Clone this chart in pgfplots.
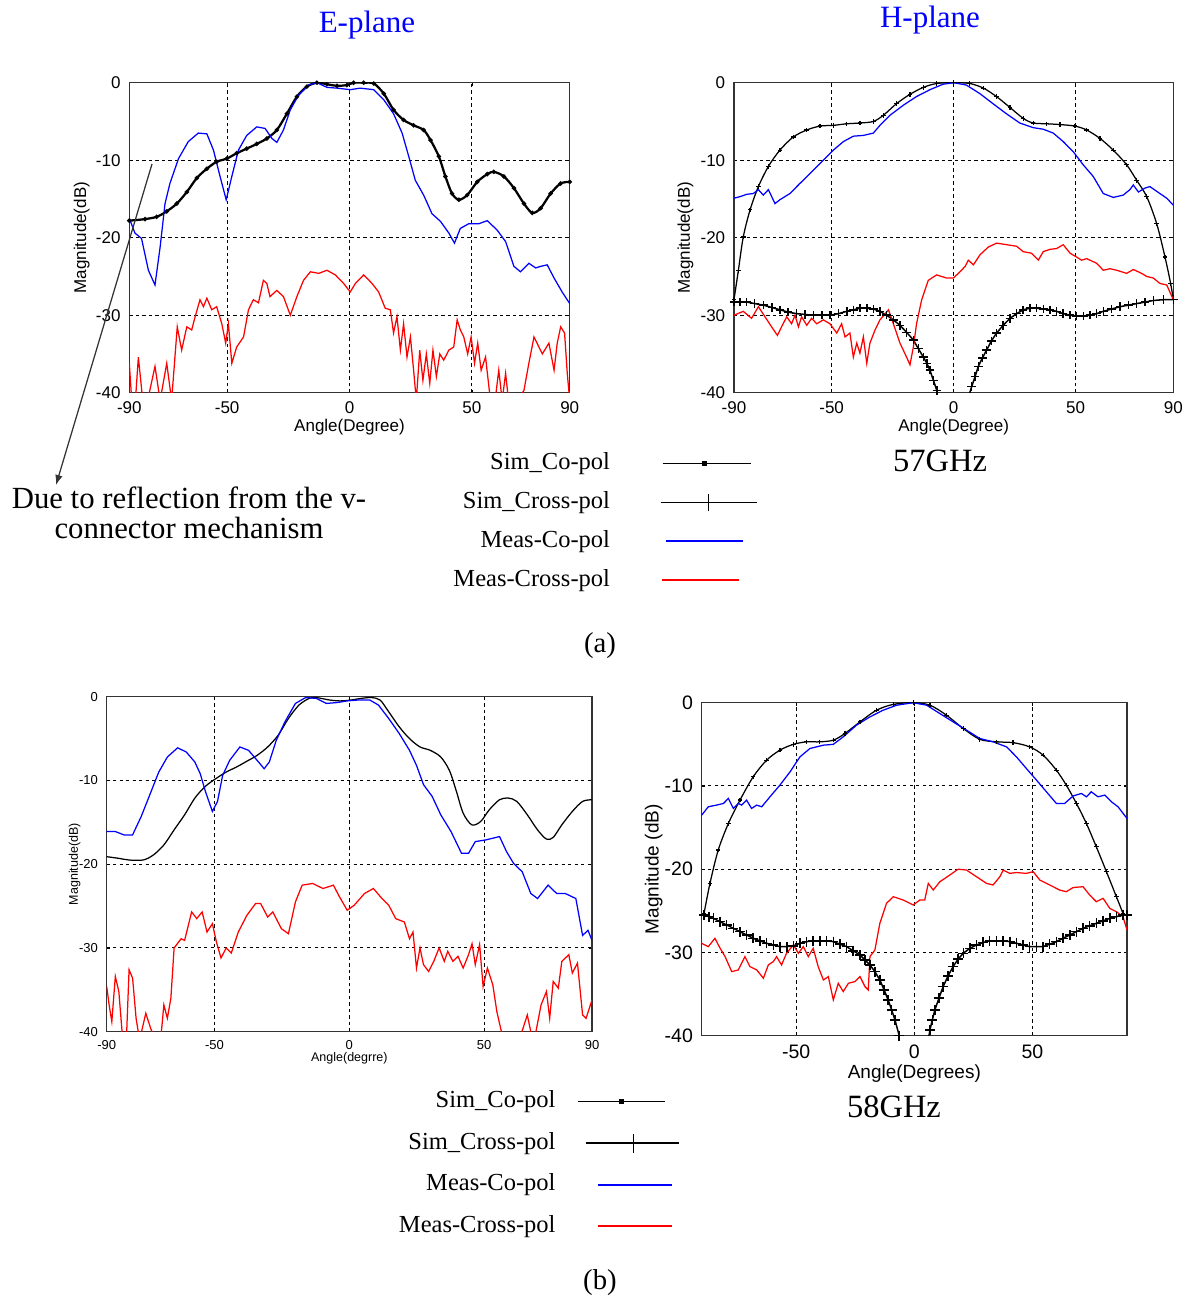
\documentclass[border=0pt]{standalone}
\usepackage{pgfplots}
\pgfplotsset{compat=1.18}
\usepackage{fontspec}
\setmainfont{Liberation Serif}
\setsansfont{Liberation Sans}
\usetikzlibrary{arrows.meta}

\pgfplotsset{
  matlab/.style={
    scale only axis, anchor=north west,
    xmin=-90, xmax=90, ymin=-40, ymax=0,
    ytick={-40,-30,-20,-10,0},
    grid=major,
    major grid style={black, line width=0.4pt, dash pattern=on 1.3pt off 1.3pt},
    axis line style={black!80, line width=0.5pt},
    tick align=inside, major tick length=1.2pt,
    tick style={black},
    /pgf/number format/assume math mode=true,
    clip=true,
    legend plot pos=right,
  },
  fA/.style={ticklabel style={font=\sffamily\fontsize{6.8}{7}\selectfont},
             label style={font=\sffamily\fontsize{6.8}{7}\selectfont}},
  fC/.style={ticklabel style={font=\sffamily\fontsize{5.2}{6}\selectfont},
             label style={font=\sffamily\fontsize{5}{6}\selectfont}},
  fD/.style={ticklabel style={font=\sffamily\fontsize{7.8}{8}\selectfont},
             label style={font=\sffamily\fontsize{7.6}{8}\selectfont}},
  meas/.style={line width=0.5pt},
  leg/.style={legend style={draw=none, fill=none, inner sep=0pt,
      font=\fontsize{9.8}{11}\selectfont, legend cell align=right,
      nodes={inner sep=0pt, text height=7pt, text depth=2pt}}},
}

\begin{document}
\begin{tikzpicture}
\path[use as bounding box] (0pt,0pt) rectangle (474.4pt,-520.4pt);

% ---------------- Panel A: E-plane 57 GHz ----------------
\begin{axis}[matlab, fA, at={(51.72pt,-33.08pt)}, width=176.16pt, height=124pt,
  xtick={-90,-50,0,50,90},
  xlabel={Angle(Degree)}, ylabel={Magnitude(dB)},
  xlabel style={yshift=4.8pt}, ylabel style={yshift=-4.4pt}]
\addplot[black, line width=0.9pt, mark=*, mark size=0.35pt, smooth] coordinates {
(-90,-17.8)(-83.6,-17.6)(-78.8,-17.3)(-74.7,-16.6)(-70.6,-15.6)(-66.5,-14.1)(-62.4,-12.3)(-58.3,-11.1)(-54.3,-10.2)(-50.2,-9.8)(-46.1,-9.1)(-42,-8.5)(-37.9,-7.9)(-33.8,-7.2)(-29.7,-6.1)(-25.6,-4.0)(-21.5,-1.8)(-17.4,-0.5)(-13.3,0)(-9.2,-0.2)(-5.1,-0.4)(-1.05,-0.3)(1.7,0)(5.8,0)(9.9,-0.1)(14,-1.4)(18,-3.5)(22.1,-4.8)(26.2,-5.5)(30.3,-6.1)(33.1,-7.4)(36.5,-9.5)(39.2,-12.1)(41.9,-14.3)(44.7,-15.1)(48.1,-14.5)(52.2,-12.8)(56.3,-11.8)(59,-11.5)(63.1,-12.1)(67.2,-13.6)(71.3,-15.6)(74.7,-16.8)(78.1,-16.2)(82.2,-14.3)(86.3,-13.0)(90,-12.8)};
\addplot[blue, meas] coordinates {
(-90,-17.5)(-87.7,-19.4)(-85,-20.1)(-82.2,-24.2)(-79.5,-26.1)(-77.4,-21.2)(-75.4,-15.6)(-73.4,-13.0)(-69.9,-9.8)(-65.9,-7.6)(-61.8,-6.5)(-58.3,-6.6)(-55.6,-8.7)(-52.9,-12.1)(-50.4,-15.1)(-48.1,-12.1)(-45.4,-8.7)(-42,-6.8)(-37.9,-5.7)(-34.5,-5.9)(-31.7,-7.2)(-29.7,-7.7)(-27,-6.1)(-24.2,-3.5)(-20.8,-1.6)(-16.7,-0.3)(-13.3,0)(-9.2,-0.6)(-5.1,-0.7)(0.3,-0.9)(4.4,-0.7)(9.9,-0.9)(14,-2.2)(18,-4.0)(21.5,-6.5)(24.2,-9.5)(26.9,-12.6)(30.3,-14.5)(33.7,-16.9)(37.2,-17.9)(40.6,-19.4)(42.9,-20.7)(45.3,-18.8)(48.7,-18.2)(52.8,-18.2)(56.3,-17.8)(60.3,-19)(63.8,-20.5)(67.2,-23.7)(69.9,-24.4)(73.3,-23.3)(76.1,-23.9)(78.1,-23.7)(80.8,-23.5)(83.6,-25.2)(86.9,-27)(90,-28.5)};
\addplot[red, meas] coordinates {
(-90,-36.2)(-89,-41)(-87.5,-41)(-86.3,-35.4)(-84.5,-41)(-82.5,-41)(-79.5,-36.6)(-77.4,-41)(-74.7,-36.2)(-72.7,-41)(-70.4,-31.5)(-68.6,-34.5)(-66.5,-31.5)(-64.5,-31.9)(-63.1,-30.2)(-61.1,-28)(-59.7,-28.9)(-58.3,-27.8)(-56.3,-29.3)(-54.3,-28.9)(-52.2,-31.1)(-50.6,-33.6)(-49.5,-31.1)(-48.1,-36.2)(-46.1,-34.1)(-43.3,-32.8)(-41.3,-29.3)(-39.3,-28)(-37.2,-28.4)(-35.2,-25.5)(-33.8,-25.9)(-32.5,-27.6)(-29.7,-26.8)(-27,-27.6)(-24.2,-30)(-21.5,-27.6)(-18.8,-25.5)(-16,-24.4)(-12.6,-24.6)(-9.2,-24.2)(-5.8,-24.8)(-2.4,-25.9)(0.3,-27)(2.4,-25.9)(5.8,-24.8)(9.2,-25.9)(11.9,-27)(14.6,-29.1)(16.7,-29.3)(18,-32.3)(19.4,-30.2)(20.8,-34.5)(22.1,-31.1)(23.5,-35.4)(24.9,-32.8)(26.2,-37.1)(27.3,-41)(28.7,-34.5)(30,-38.4)(31.4,-35)(32.8,-38.8)(34.1,-34.5)(35.5,-37.9)(36.9,-35)(38.5,-35.8)(40.6,-34.5)(42.6,-34.1)(44,-30.6)(45.3,-31.9)(46.7,-32.8)(48.3,-35)(49.7,-32.8)(51.1,-36.2)(52.4,-33.6)(53.8,-37.1)(55.6,-35.4)(57.6,-41)(59.5,-41)(61,-37.1)(62.4,-41)(63.8,-37.5)(65,-41)(68.5,-41)(71.3,-39.7)(73.3,-36.2)(75.4,-32.8)(78.8,-35)(81.5,-33.6)(83.6,-37.1)(84.9,-33.6)(86.3,-31.5)(87.9,-32.3)(89,-37.5)(90,-41)};
\end{axis}

% ---------------- Panel B: H-plane 57 GHz ----------------
\begin{axis}[matlab, fA, leg, at={(293.6pt,-33.08pt)}, width=175.72pt, height=124pt,
  xtick={-90,-50,0,50,90},
  xlabel={Angle(Degree)}, ylabel={Magnitude(dB)},
  xlabel style={yshift=4.8pt}, ylabel style={yshift=-4pt},
  legend style={at={(0.0546,-0.19)}, anchor=north east, /tikz/column sep=20pt, row sep=6.6pt}]
\addplot[black, line width=0.5pt, mark=+, mark size=0.9pt, smooth, forget plot] coordinates {
(-90,-28)(-88.2,-24.2)(-86.2,-19.9)(-83.4,-16.4)(-80,-13.4)(-75.9,-10.8)(-71.2,-8.7)(-65.7,-7)(-60.2,-6.1)(-54.8,-5.6)(-49.3,-5.5)(-43.8,-5.3)(-38.4,-5.2)(-32.9,-5.0)(-28.8,-4.2)(-23.4,-2.7)(-17.9,-1.5)(-12.4,-0.6)(-6.9,-0.1)(0,0)(6.6,-0.1)(12.2,-0.7)(17.6,-1.8)(23.1,-3.2)(28.5,-4.6)(32.6,-5.2)(38.1,-5.3)(43.6,-5.4)(49.7,-5.6)(54.5,-6.1)(60,-7.2)(65.4,-8.7)(70.9,-10.6)(75,-12.6)(79.1,-14.7)(83.2,-18.2)(86.6,-22.5)(88.9,-25.9)(90,-28)};
\addplot[black, line width=0.6pt, mark=+, mark size=1.7pt, forget plot] coordinates {
(-90,-28.3)(-87.5,-28.3)(-84.8,-28.3)(-81.5,-28.5)(-78,-28.7)(-74.5,-29)(-71.2,-29.3)(-67.8,-29.6)(-64.3,-29.8)(-61,-29.9)(-57.5,-30)(-54,-30)(-50.7,-30)(-47.2,-29.8)(-43.8,-29.5)(-41,-29.3)(-38.4,-29.1)(-35.6,-29.1)(-32.9,-29.2)(-30.2,-29.5)(-27.5,-30)(-24.7,-30.6)(-22,-31.3)(-19.3,-32.2)(-16.5,-33.2)(-14.5,-34.3)(-12.4,-35.4)(-11,-36.2)(-9.7,-37.1)(-8.3,-38.4)(-6.9,-39.7)(-5.6,-41)};
\addplot[black, line width=0.6pt, mark=+, mark size=1.7pt, forget plot] coordinates {
(5.6,-41)(7.4,-39.2)(8.8,-37.9)(10.1,-36.6)(11.8,-35.5)(13.5,-34.5)(15.5,-33.3)(17.6,-32.3)(20.3,-31.3)(23.1,-30.4)(25.8,-29.8)(28.5,-29.3)(31.2,-29.1)(34,-29.1)(36.8,-29.2)(39.5,-29.3)(42.2,-29.5)(44.9,-29.8)(47.6,-30)(50.4,-30.1)(53.1,-30.1)(55.9,-30)(58.6,-29.8)(61.3,-29.5)(64.7,-29.2)(68.2,-28.9)(71.6,-28.7)(75,-28.5)(78.4,-28.3)(81.8,-28.1)(85.9,-28)(90,-28)};
\addplot[blue, meas, forget plot] coordinates {
(-90,-14.9)(-87.5,-14.7)(-84.8,-14.4)(-82.1,-14.3)(-80,-13.8)(-78,-14.5)(-75.9,-13.8)(-73.2,-15.6)(-71.2,-15.1)(-67.1,-14.3)(-63,-13)(-57.5,-11.3)(-53.4,-10)(-49.3,-8.7)(-45.2,-7.6)(-41.1,-6.9)(-37,-6.8)(-32.9,-6.5)(-30.2,-5.5)(-26.1,-4.2)(-20.6,-2.9)(-15.3,-1.8)(-9.7,-0.9)(-4.4,-0.2)(0,0)(5.2,-0.3)(10.7,-1.4)(16.1,-2.7)(21.6,-4)(27.1,-5.2)(32.6,-5.8)(36.7,-6)(40.8,-6.5)(44.9,-7.6)(49,-8.9)(53.1,-10.6)(57.2,-12.1)(61.3,-14.3)(65.4,-14.8)(69.5,-14.5)(72.2,-13.8)(73.6,-13.2)(75.7,-14.1)(78.4,-13.6)(80.4,-13.4)(84.5,-14.3)(87.3,-14.9)(90,-15.8)};
\addplot[red, meas, forget plot] coordinates {
(-90,-30)(-86.2,-29.5)(-82.8,-30.4)(-80,-28.9)(-77.3,-30.2)(-74.6,-31.5)(-72.2,-32.6)(-70.5,-31.5)(-68.4,-30.2)(-66.4,-31.1)(-65,-30)(-63.6,-31.5)(-62.3,-30.2)(-60.2,-31.3)(-58.2,-30.4)(-56.1,-31.1)(-53.4,-30.6)(-50.7,-31.1)(-47.9,-32.3)(-45.9,-31.1)(-44.5,-32.8)(-42.5,-32.3)(-41.1,-35.4)(-39.7,-33.6)(-38.4,-34.9)(-37,-32.8)(-35.6,-36.2)(-34.3,-33.6)(-32.2,-31.9)(-30.2,-30.6)(-26.7,-29.3)(-24.7,-31.1)(-22,-33.6)(-19.3,-35.4)(-17.9,-36.4)(-16.5,-34.1)(-15.2,-31.1)(-13.1,-28)(-10.4,-25.5)(-7,-24.8)(-2.9,-25.2)(-0.1,-25.2)(2.6,-24.4)(4.7,-23.7)(6,-22.9)(8.1,-23.5)(10.8,-22.2)(14.2,-21.2)(17.6,-20.7)(21.7,-20.9)(25.8,-21.1)(28.5,-21.8)(31.9,-22.0)(34.7,-22.9)(36.7,-21.8)(39.5,-21.5)(42.2,-21.4)(44.9,-20.9)(47.7,-22)(50.4,-22.5)(52.4,-22.9)(54.5,-22.7)(58.6,-23.3)(61.3,-24.2)(64.1,-24)(66.8,-24.2)(70.9,-24.6)(73.6,-24.1)(77,-24.6)(79.1,-25)(81.8,-25.2)(84.5,-25.9)(87.3,-26.1)(90,-28)};
\addlegendimage{legend image code/.code={\draw[black,line width=0.6pt] (0.8pt,0pt) -- (36pt,0pt); \fill[black] (16.7pt,-0.9pt) rectangle (18.5pt,0.9pt);}}
\addlegendentry{Sim\_Co-pol}
\addlegendimage{legend image code/.code={\draw[black,line width=0.6pt] (0pt,0pt) -- (38.4pt,0pt); \draw[black,line width=0.5pt] (19.2pt,-3.5pt) -- (19.2pt,3.5pt);}}
\addlegendentry{Sim\_Cross-pol}
\addlegendimage{legend image code/.code={\draw[blue,line width=0.7pt] (2pt,0pt) -- (32.8pt,0pt);}}
\addlegendentry{Meas-Co-pol}
\addlegendimage{legend image code/.code={\draw[draw=red,line width=0.8pt] (0.4pt,0pt) -- (31.2pt,0pt);}}
\addlegendentry{Meas-Cross-pol}
\end{axis}

% ---------------- Panel C: E-plane 58 GHz ----------------
\begin{axis}[matlab, fC, at={(42.68pt,-278.68pt)}, width=194.12pt, height=134pt,
  xtick={-90,-50,0,50,90},
  xlabel={Angle(degrre)}, ylabel={Magnitude(dB)},
  xlabel style={yshift=5.6pt}, ylabel style={yshift=-7.4pt}]
\addplot[black, line width=0.5pt, smooth] coordinates {
(-90,-19.1)(-85.5,-19.3)(-81.7,-19.5)(-76.5,-19.5)(-72.7,-18.9)(-68.8,-17.7)(-65,-15.9)(-61.1,-14.1)(-57.3,-12.1)(-53.4,-10.7)(-49.6,-9.8)(-45.7,-9.0)(-41.9,-8.4)(-38,-7.7)(-34.2,-7.0)(-30.3,-6.0)(-26.4,-4.6)(-22.6,-2.6)(-18.7,-1.0)(-14.9,-0.2)(-12.3,-0.1)(-7.2,-0.4)(-3.3,-0.5)(0.5,-0.4)(4.4,-0.2)(8.2,-0.1)(11.4,-0.4)(14.6,-1.8)(18.5,-3.6)(22.3,-5.0)(26.2,-6.0)(30,-6.4)(33.9,-7.2)(37.1,-8.8)(39.7,-11.3)(42.2,-13.9)(45.4,-15.3)(48.7,-14.9)(51.9,-13.5)(55.7,-12.3)(58.9,-12.1)(62.1,-12.5)(66,-14.1)(69.8,-15.9)(73.1,-17)(75.6,-16.8)(78.8,-15.3)(82.7,-13.7)(86.5,-12.5)(90,-12.3)};
\addplot[blue, meas] coordinates {
(-90,-16.1)(-86.8,-16.1)(-83.6,-16.5)(-80.4,-16.5)(-77.2,-14.3)(-74,-11.7)(-70.7,-9)(-67.5,-7.2)(-63.7,-6.1)(-60.5,-6.6)(-57.3,-7.8)(-55.3,-9.2)(-53.4,-11.3)(-50.8,-13.7)(-48.9,-12.5)(-47,-9.4)(-44.4,-7.6)(-40.6,-6)(-37.4,-6.4)(-34.2,-7.6)(-31.6,-8.6)(-29.7,-7.8)(-27.1,-5.2)(-23.9,-3.0)(-20,-0.8)(-16.2,-0.1)(-12.3,-0.2)(-8.5,-0.8)(-4.6,-0.7)(-0.8,-0.5)(3.1,-0.4)(7.6,-0.4)(10.8,-1)(14.6,-2.6)(18.5,-4.4)(22.3,-6.4)(24.9,-8.2)(27.5,-10.5)(30.7,-11.9)(33.9,-14.1)(37.7,-16.1)(41.6,-18.7)(44.2,-18.7)(46.7,-17.3)(50.6,-17.1)(55.7,-16.7)(58.3,-18.5)(60.9,-19.9)(64.1,-20.9)(67.3,-23.5)(69.8,-24.1)(73.7,-22.5)(76.9,-23.5)(80.1,-23.5)(84,-24.1)(86.5,-28.5)(88.5,-27.9)(90,-29.1)};
\addplot[red, meas] coordinates {
(-90,-34.6)(-89.1,-36.8)(-88.1,-38.8)(-86.8,-33.4)(-85.5,-35.2)(-84.2,-40.4)(-82.7,-41)(-81.7,-32.6)(-80.4,-33.6)(-79.1,-38.4)(-77.8,-41)(-75.5,-37.8)(-73.7,-39.6)(-72,-41)(-70,-41)(-68.8,-36.8)(-67.5,-38.4)(-66.2,-36)(-65,-30)(-62.4,-28.9)(-61.1,-29.1)(-58.5,-25.7)(-56.6,-26.5)(-54.6,-25.7)(-52.8,-28.1)(-50.8,-27.1)(-49.3,-29.3)(-47.6,-31.2)(-45.7,-30)(-43.8,-30.6)(-41.2,-28.1)(-38,-26.1)(-34.8,-24.7)(-32.9,-24.7)(-30.3,-26.3)(-28.4,-25.7)(-25.2,-27.7)(-22.6,-28.3)(-20,-24.5)(-17.5,-22.5)(-13.6,-22.3)(-9.8,-22.9)(-5.9,-22.5)(-4,-23.7)(-0.8,-25.5)(1.8,-24.9)(5.6,-23.5)(8.9,-22.9)(12.1,-24.1)(14.6,-24.9)(17.2,-26.5)(20.4,-26.9)(22.3,-28.9)(23.6,-28.1)(24.9,-32.4)(26.2,-30)(27.5,-32)(29.4,-32.8)(31.3,-31.6)(33.3,-30)(35.2,-31.6)(36.5,-30.4)(38.4,-31.6)(40.3,-31)(42.2,-32.4)(44.2,-30.8)(45.5,-29.5)(46.7,-32)(48.3,-29.6)(49.6,-34.6)(51.2,-32.4)(53.2,-34.4)(54.7,-37.6)(56.4,-40)(58.3,-41)(63,-41)(66,-38)(67.3,-40)(68.6,-41)(71.1,-36.8)(73.1,-35.2)(74.3,-38.4)(75.6,-34)(77.5,-34.8)(78.8,-31.6)(81.4,-30.8)(82.7,-33)(84.6,-31.8)(86.5,-38)(87.8,-38.4)(90,-36.2)};
\end{axis}

% ---------------- Panel D: H-plane 58 GHz ----------------
\begin{axis}[matlab, fD, leg, at={(280.68pt,-281.08pt)}, width=170.12pt, height=133.2pt,
  xtick={-50,0,50},
  xlabel={Angle(Degrees)}, ylabel={Magnitude (dB)},
  xlabel style={yshift=4.4pt}, ylabel style={yshift=-6pt},
  legend style={at={(-0.051,-0.163)}, anchor=north east, /tikz/column sep=8.8pt, row sep=7.6pt}]
\addplot[black, line width=0.5pt, mark=+, mark size=0.9pt, smooth, forget plot] coordinates {
(-89,-25.3)(-86.5,-21.7)(-83,-17.7)(-78.7,-14.5)(-73.8,-11.7)(-68.2,-8.9)(-62.5,-6.9)(-56.9,-5.7)(-51.2,-5.0)(-45.6,-4.7)(-40,-4.7)(-34.3,-4.5)(-29.4,-3.7)(-23,-2.3)(-16,-0.9)(-8.9,-0.2)(-0.5,0)(6.6,-0.3)(13.6,-1.5)(20.7,-3.1)(27.7,-4.4)(34.8,-4.7)(41.8,-4.8)(48.8,-5.3)(54.5,-6.3)(60.1,-8.1)(64.3,-9.9)(68.6,-12.1)(72.8,-14.5)(77,-17.3)(81.3,-20.3)(85.5,-23.3)(88.3,-25.3)};
\addplot[black, line width=0.6pt, mark=+, mark size=2pt, forget plot] coordinates {
(-89,-25.5)(-87,-25.7)(-85.1,-25.9)(-82.2,-26.3)(-79.4,-26.7)(-76.6,-27.1)(-73.8,-27.5)(-71,-27.9)(-68.2,-28.3)(-65.4,-28.6)(-62.5,-28.9)(-59.7,-29.1)(-56.9,-29.3)(-54,-29.3)(-51.2,-29.2)(-48.4,-28.9)(-45.6,-28.7)(-42.8,-28.6)(-40,-28.6)(-37.1,-28.6)(-34.3,-28.7)(-31.5,-29)(-28.7,-29.3)(-25.9,-29.8)(-23,-30.3)(-20.9,-30.9)(-18.8,-31.5)(-16.7,-32.3)(-14.6,-33.3)(-12.8,-34.5)(-11.1,-35.7)(-9.6,-36.9)(-8.2,-38.1)(-6.4,-40)(-5.8,-40.5)};
\addplot[black, line width=0.6pt, mark=+, mark size=2pt, forget plot] coordinates {
(5.9,-40.5)(6.6,-39.3)(7.6,-38.1)(8.7,-36.9)(10.4,-35.5)(12.2,-34.1)(14.3,-32.8)(16.4,-31.7)(18.5,-30.8)(20.7,-30.1)(23.5,-29.5)(26.3,-29.1)(29.1,-28.8)(31.9,-28.6)(34.7,-28.6)(37.6,-28.6)(40.4,-28.7)(43.2,-28.9)(46,-29.1)(48.8,-29.3)(51.7,-29.3)(54.5,-29.3)(57.3,-29)(60.1,-28.7)(62.9,-28.3)(65.8,-27.9)(68.6,-27.5)(71.4,-27.1)(74.2,-26.8)(77,-26.5)(79.9,-26.2)(82.7,-25.9)(85.5,-25.7)(88.3,-25.5)(90,-25.5)};
\addplot[blue, meas, forget plot] coordinates {
(-90,-13.5)(-87.2,-12.5)(-83.7,-12.3)(-80.8,-12.1)(-78.7,-11.5)(-76.6,-12.7)(-74.5,-12.1)(-73.1,-12.3)(-71,-11.7)(-68.9,-12.7)(-66.7,-12.3)(-64.6,-12.5)(-61.1,-11.3)(-56.9,-9.9)(-52.6,-8.3)(-48.4,-6.5)(-44.2,-5.5)(-38.5,-5.1)(-34.3,-5.0)(-30.1,-4.1)(-24.5,-2.7)(-18.8,-1.7)(-13.2,-0.9)(-7.5,-0.3)(-0.5,0)(5.2,-0.3)(10.8,-1.3)(16.4,-2.3)(22.1,-3.3)(27.7,-4.3)(33.3,-4.7)(39,-5.3)(43.2,-6.5)(47.4,-7.9)(51.7,-9.3)(55.9,-10.7)(60.1,-12.1)(63.6,-12.1)(67.2,-11.2)(70.7,-10.9)(72.8,-11.3)(74.9,-10.7)(77.7,-11.3)(80.6,-11.1)(83.4,-11.9)(86.2,-12.5)(90,-13.9)};
\addplot[red, meas, forget plot] coordinates {
(-90,-28.9)(-87.2,-29.3)(-84.4,-28.3)(-82.2,-29.5)(-80.1,-30.5)(-77.3,-32.3)(-74.5,-32.1)(-71.7,-30.5)(-69.6,-31.7)(-66.7,-32.1)(-63.9,-33.1)(-61.8,-31.5)(-59.7,-31.1)(-58.3,-30.5)(-56.2,-31.5)(-54.1,-30.1)(-51.2,-29.1)(-49.1,-30.1)(-47,-29.3)(-44.9,-30.5)(-42.8,-29.5)(-40.7,-31.7)(-38.5,-33.3)(-36.4,-32.9)(-34.3,-35.7)(-32.2,-33.7)(-30.1,-34.7)(-27.9,-33.7)(-25.2,-33.5)(-23,-32.9)(-20.9,-34.1)(-19.5,-34.5)(-18.8,-30.5)(-16.7,-29.7)(-14.6,-26.5)(-11.8,-24.1)(-8.9,-23.3)(-4.7,-23.7)(-0.5,-24.3)(2.3,-23.7)(4.4,-23.7)(5.9,-21.7)(8,-22.5)(10.8,-21.5)(15,-20.7)(18.5,-20)(22.1,-20.1)(26.3,-20.9)(30.5,-21.7)(33.3,-21.9)(36.2,-20.9)(37.6,-20.1)(40.4,-20.5)(43.2,-20.4)(47.4,-20.5)(50.3,-20.3)(53.1,-21.3)(57.3,-21.9)(61.5,-22.5)(64.3,-22.7)(67.2,-22.2)(71.4,-22.1)(74.2,-23.1)(77,-23.9)(79.9,-23.5)(82.7,-24.7)(85.5,-25.1)(88.3,-25.7)(90,-27.3)};
\addlegendimage{legend image code/.code={\draw[black,line width=0.6pt] (-3.2pt,0pt) -- (31.6pt,0pt); \fill[black] (13.1pt,-0.9pt) rectangle (14.9pt,0.9pt);}}
\addlegendentry{Sim\_Co-pol}
\addlegendimage{legend image code/.code={\draw[black,line width=0.6pt] (0pt,0pt) -- (37pt,0pt); \draw[black,line width=0.5pt] (18.8pt,-3.8pt) -- (18.8pt,3.8pt);}}
\addlegendentry{Sim\_Cross-pol}
\addlegendimage{legend image code/.code={\draw[blue,line width=0.7pt] (4.8pt,0pt) -- (34.4pt,0pt);}}
\addlegendentry{Meas-Co-pol}
\addlegendimage{legend image code/.code={\draw[red,line width=0.7pt] (4.8pt,0pt) -- (34.4pt,0pt);}}
\addlegendentry{Meas-Cross-pol}
\end{axis}

% ---------------- Texts ----------------
\node[blue, font=\fontsize{12.4}{14}\selectfont] at (146.8pt,-10pt) {E-plane};
\node[blue, font=\fontsize{12.4}{14}\selectfont] at (372pt,-8pt) {H-plane};
\node[font=\fontsize{13}{15}\selectfont] at (376pt,-184.4pt) {57GHz};
\node[font=\fontsize{13}{15}\selectfont] at (357.6pt,-442.8pt) {58GHz};
\node[font=\fontsize{11.5}{13}\selectfont] at (240pt,-258.4pt) {(a)};
\node[font=\fontsize{11.5}{13}\selectfont] at (240pt,-513.2pt) {(b)};
\node[font=\fontsize{12.3}{14}\selectfont] at (75.6pt,-199.2pt) {Due to reflection from the v-};
\node[font=\fontsize{12.3}{14}\selectfont] at (75.6pt,-211.2pt) {connector mechanism};
\draw[black!80, line width=0.5pt, -{Latex[length=4pt,width=3pt]}] (60.8pt,-65.6pt) -- (22.4pt,-194pt);
\end{tikzpicture}
\end{document}
